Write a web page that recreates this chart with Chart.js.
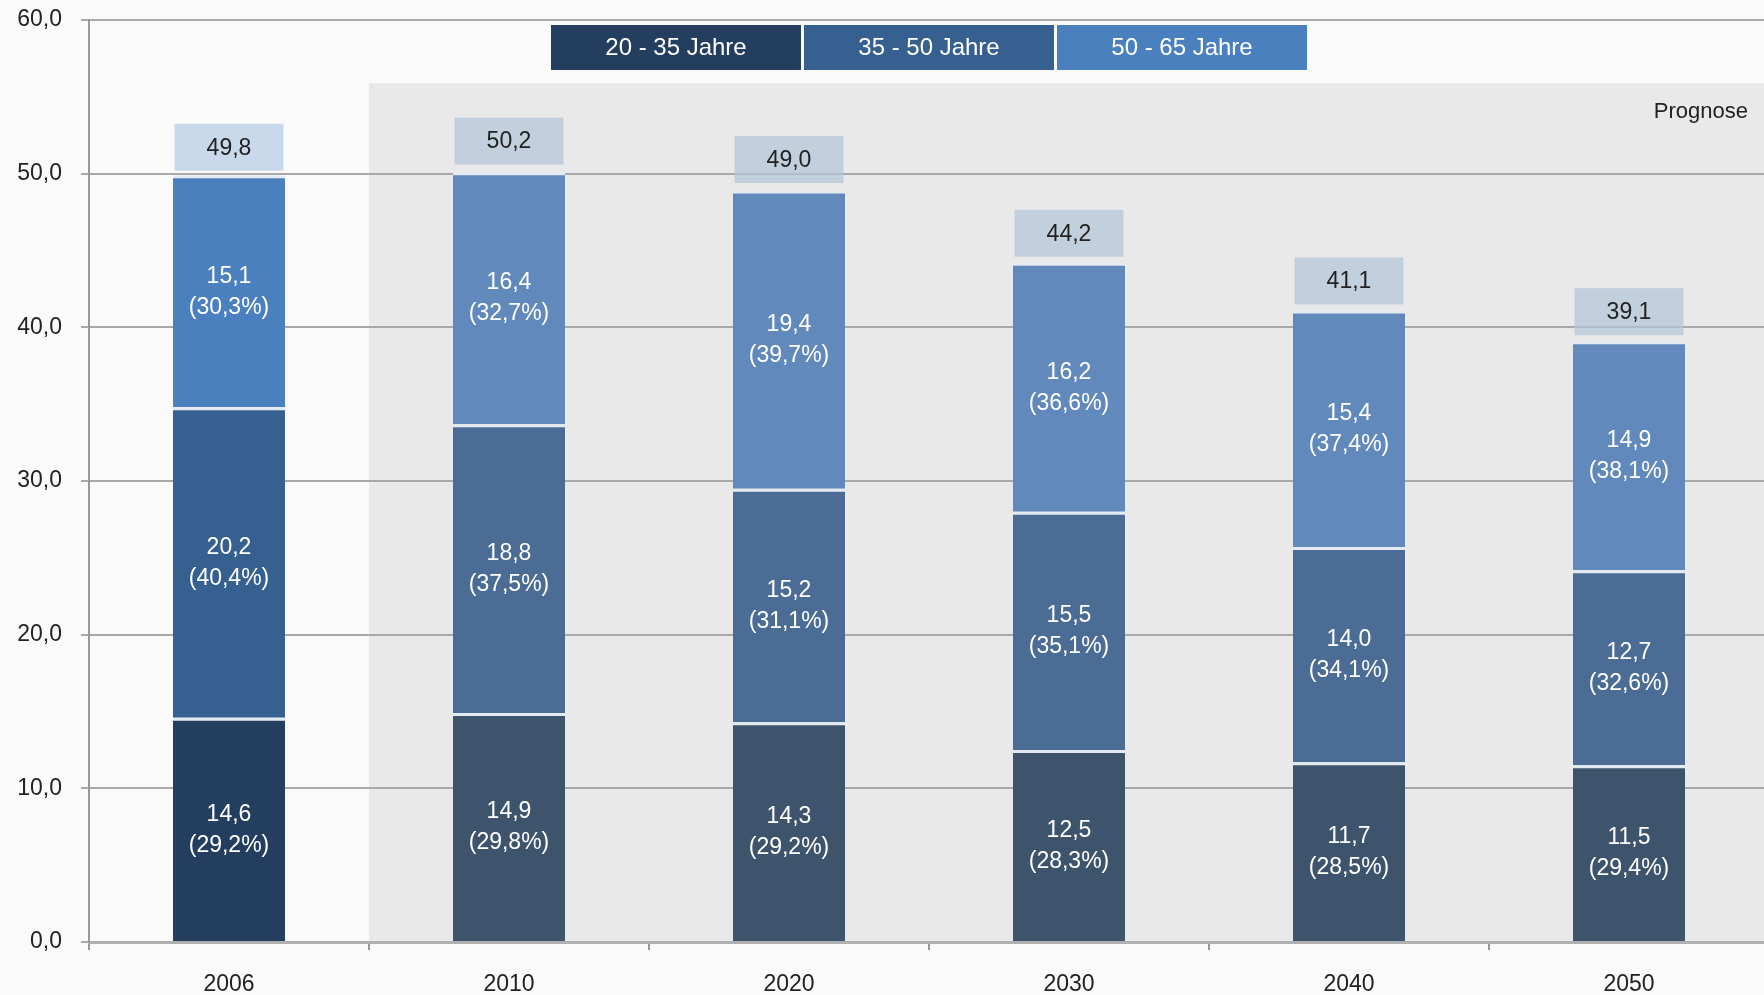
<!DOCTYPE html>
<html>
<head>
<meta charset="utf-8">
<script src="https://cdn.jsdelivr.net/npm/chart.js@4"></script>
<style>
  html, body { margin: 0; padding: 0; overflow: hidden; background: #fafafa; }
  canvas { display: block; }
</style>
</head>
<body>
<canvas id="graph-age" width="1770" height="995"></canvas>
<script>
// Daten
const years = ["2006", "2010", "2020", "2030", "2040", "2050"];
const age20to35 = [14.6, 14.9, 14.3, 12.5, 11.7, 11.5];
const age35to50 = [20.2, 18.8, 15.2, 15.5, 14.0, 12.7];
const age50to65 = [15.1, 16.4, 19.4, 16.2, 15.4, 14.9];
const share20to35 = [29.2, 29.8, 29.2, 28.3, 28.5, 29.4];
const share35to50 = [40.4, 37.5, 31.1, 35.1, 34.1, 32.6];
const share50to65 = [30.3, 32.7, 39.7, 36.6, 37.4, 38.1];
const totals = [49.8, 50.2, 49.0, 44.2, 41.1, 39.1];
const seriesLabels = ["20 - 35 Jahre", "35 - 50 Jahre", "50 - 65 Jahre"];
const yTicks = [0, 10, 20, 30, 40, 50, 60];
const forecastTop = 55.9;
const forecastLabel = "Prognose";

const FONT = "'Liberation Sans', Arial, sans-serif";
const fmt = (v) => v.toFixed(1).replace(".", ",");

// first bar is real data, the rest is forecast
const legendColors = ["#243e5f", "#35608f", "#4a80be"];
const forecastColors = ["#3e546c", "#4b6c95", "#6189bc"];
const colorsFor = (i) => years.map((y, j) => (j === 0 ? legendColors[i] : forecastColors[i]));

const shares = [share20to35, share35to50, share50to65];

const bgPlugin = {
  id: "bg",
  beforeDraw(chart) {
    const { ctx, chartArea, scales } = chart;
    ctx.save();
    ctx.fillStyle = "#fafafa";
    ctx.fillRect(0, 0, chart.width, chart.height);
    // Prognose-Bereich
    const left = (scales.x.getPixelForValue(0) + scales.x.getPixelForValue(1)) / 2;
    const top = scales.y.getPixelForValue(forecastTop);
    ctx.fillStyle = "#e9e9e9";
    ctx.fillRect(left, top, chartArea.right - left, chartArea.bottom - top);
    ctx.restore();
  },
};

const labelPlugin = {
  id: "labels",
  afterDatasetsDraw(chart) {
    const { ctx, scales, chartArea } = chart;
    ctx.save();
    ctx.textAlign = "center";
    ctx.textBaseline = "middle";
    ctx.font = "23px " + FONT;

    // values inside the segments
    chart.data.datasets.forEach((ds, i) => {
      chart.getDatasetMeta(i).data.forEach((bar, j) => {
        const cy = (bar.y + bar.base) / 2;
        ctx.fillStyle = "#ffffff";
        ctx.fillText(fmt(ds.data[j]), bar.x, cy - 15);
        ctx.fillText("(" + fmt(shares[i][j]) + "%)", bar.x, cy + 16);
      });
    });

    // total boxes
    const top = chart.getDatasetMeta(2).data;
    top.forEach((bar, j) => {
      const bottom = scales.y.getPixelForValue(totals[j]) - 6;
      const h = 47;
      const w = bar.width - 3;
      ctx.fillStyle = j === 0 ? "#c9d8eb" : "rgba(179,197,216,0.72)";
      ctx.fillRect(bar.x - w / 2, bottom - h, w, h);
      ctx.fillStyle = "#222222";
      ctx.fillText(fmt(totals[j]), bar.x, bottom - h / 2 + 1);
    });

    // Prognose text
    ctx.textAlign = "right";
    ctx.fillStyle = "#222222";
    ctx.font = "22px " + FONT;
    ctx.fillText(forecastLabel, chartArea.right - 21, scales.y.getPixelForValue(forecastTop) + 29);

    // legend boxes
    const itemW = 250, itemH = 45, gap = 3;
    const totalW = itemW * 3 + gap * 2;
    let x = (chartArea.left + chartArea.right) / 2 - totalW / 2;
    const y = chartArea.top + 5;
    ctx.textAlign = "center";
    ctx.font = "24px " + FONT;
    seriesLabels.forEach((lab, i) => {
      ctx.fillStyle = legendColors[i];
      ctx.fillRect(x, y, itemW, itemH);
      ctx.fillStyle = "#ffffff";
      ctx.fillText(lab, x + itemW / 2, y + itemH / 2 + 1);
      x += itemW + gap;
    });
    ctx.restore();
  },
};

const graphAge = document.getElementById("graph-age").getContext("2d");
const myChart = new Chart(graphAge, {
  type: "bar",
  data: {
    labels: years,
    datasets: [
      { label: seriesLabels[0], data: age20to35, backgroundColor: colorsFor(0) },
      { label: seriesLabels[1], data: age35to50, backgroundColor: colorsFor(1) },
      { label: seriesLabels[2], data: age50to65, backgroundColor: colorsFor(2) },
    ],
  },
  options: {
    responsive: false,
    animation: false,
    devicePixelRatio: 1,
    layout: { padding: { top: 20, left: 0, right: 1, bottom: 0 } },
    datasets: {
      bar: {
        barPercentage: 0.4,
        categoryPercentage: 1,
        borderWidth: { top: 3, left: 0, right: 0, bottom: 0 },
        borderColor: "#e4eaf2",
        borderSkipped: false,
      },
    },
    plugins: {
      legend: { display: false },
      tooltip: { enabled: false },
    },
    scales: {
      x: {
        stacked: true,
        afterFit: (s) => { s.height = 53; s.paddingLeft = 0; s.paddingRight = 0; },
        grid: { drawOnChartArea: false, tickLength: 8, color: "#999999", lineWidth: 2 },
        border: { color: "#b0b0b0", width: 3 },
        ticks: { color: "#222222", font: { family: FONT, size: 23 }, padding: 21 },
      },
      y: {
        stacked: true,
        min: yTicks[0],
        max: yTicks[yTicks.length - 1],
        afterFit: (s) => { s.width = 89; s.paddingTop = 0; s.paddingBottom = 0; },
        afterBuildTicks: (s) => { s.ticks = yTicks.map((v) => ({ value: v })); },
        grid: { color: "#a8a8a8", lineWidth: 2, tickLength: 8 },
        border: { color: "#999999", width: 2 },
        ticks: { color: "#222222", font: { family: FONT, size: 23 }, padding: 19, callback: (v) => fmt(v) },
      },
    },
  },
  plugins: [bgPlugin, labelPlugin],
});
</script>
</body>
</html>
